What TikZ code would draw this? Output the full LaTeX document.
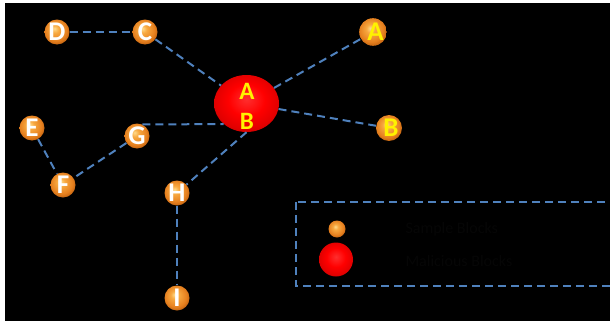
\documentclass[tikz,border=0pt]{standalone}
\usepackage{fontspec}
\setmainfont{Carlito}
\usetikzlibrary{shapes.geometric}
\definecolor{linkblue}{RGB}{79,129,189}
\definecolor{faint}{RGB}{6,6,6}
% glossy orange sphere, lit from the upper left
\pgfdeclareradialshading{orangeball}{\pgfpoint{-5bp}{7bp}}{%
  rgb(0bp)=(1,0.86,0.55);
  rgb(8bp)=(0.97,0.66,0.25);
  rgb(22bp)=(0.90,0.50,0.12);
  rgb(30bp)=(0.72,0.36,0.05);
  rgb(50bp)=(0.72,0.36,0.05)}
% glossy red sphere
\pgfdeclareradialshading{redball}{\pgfpoint{0bp}{4bp}}{%
  rgb(0bp)=(1,0.18,0.18);
  rgb(14bp)=(1,0,0);
  rgb(25bp)=(0.88,0,0);
  rgb(32bp)=(0.65,0,0);
  rgb(50bp)=(0.65,0,0)}
\tikzset{
  block/.style={circle, minimum size=25pt, inner sep=0pt, shading=orangeball,
    font=\bfseries\fontsize{27}{27}\selectfont, text=white},
  hotblock/.style={block, text=yellow},
  badblock/.style={ellipse, minimum width=65pt, minimum height=57pt, inner sep=0pt,
    shading=redball},
  badlabel/.style={text=yellow, font=\bfseries\fontsize{25}{25}\selectfont},
  link/.style={draw=linkblue, line width=2pt, dash pattern=on 8pt off 5pt},
  legendtext/.style={anchor=west, text=faint, font=\fontsize{16}{16}\selectfont}
}
\begin{document}
\begin{tikzpicture}[x=1pt,y=-1pt]
  % page frame: thin white margin around a black canvas
  \fill[white] (0,0) rectangle (610,324);
  \fill[black] (5,3) rectangle (610,321);
  \useasboundingbox (0,0) rectangle (610,324);

  % the malicious block in the middle
  \node[badblock] (M) at (246.5,103.5) {};
  \node[badlabel] (Ma) at (247,91) {A};
  \node[badlabel] (Mb) at (247,121) {B};

  % sample blocks
  \node[block] (D) at (57,32) {D};
  \node[block] (C) at (145,32) {C};
  \node[hotblock] (A) at (373,32) {\hspace*{5pt}A};
  \node[hotblock] (B) at (389,128) {\hspace*{4pt}B};
  \node[block] (E) at (32,128) {E};
  \node[block] (G) at (137,136) {G};
  \node[block] (F) at (63,185) {F};
  \node[block] (H) at (177,193) {H};
  \node[block] (I) at (177,298) {I};

  % links
  \draw[link] (D) -- (C);
  \draw[link] (C) -- (M);
  \draw[link] (M) -- (A);
  \draw[link] (M) -- (B);
  \draw[link] (G.65) -- (M.222);
  \draw[link] (M.south) -- (H);
  \draw[link] (G) -- (F);
  \draw[link] (E) -- (F);
  \draw[link] (H) -- (I);

  % legend
  \coordinate (L1) at (296,202);
  \coordinate (L2) at (620,286);
  \draw[link, line width=1.5pt] (L1) rectangle (L2);
  \node[circle, minimum size=17pt, inner sep=0pt, shading=orangeball] (ks) at (337,229) {};
  \node[circle, minimum size=34pt, inner sep=0pt, shading=redball] (km) at (336,259.5) {};
  \node[legendtext] (ts) at (402,229) {Sample Blocks};
  \node[legendtext] (tm) at (402,261) {Malicious Blocks};
\end{tikzpicture}
\end{document}
